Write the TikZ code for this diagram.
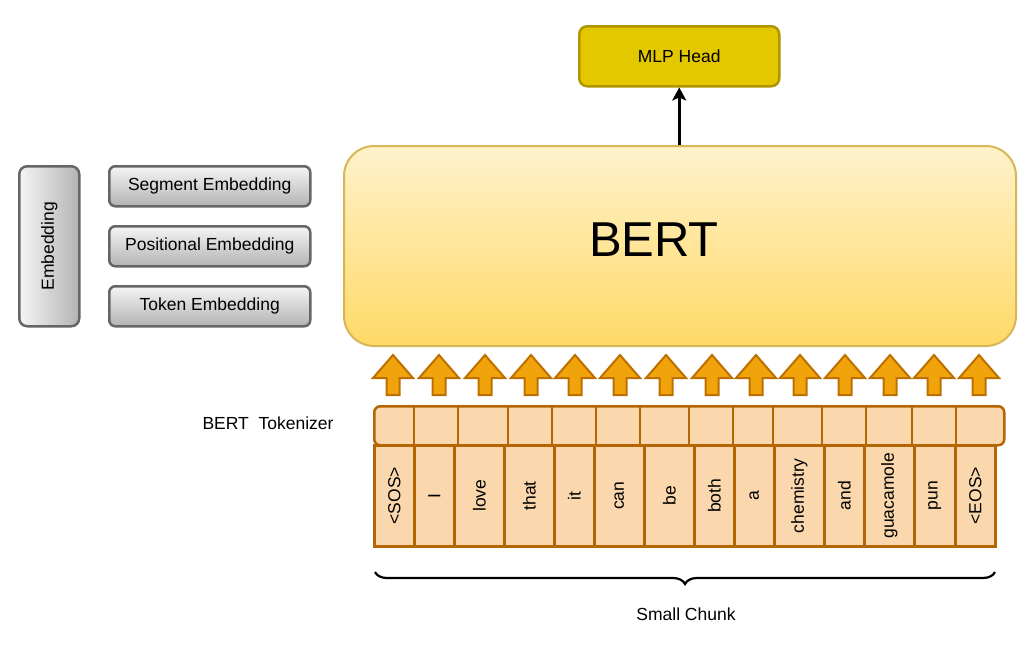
\documentclass[tikz,border=0pt]{standalone}
\usepackage{fontspec}
\setmainfont{Liberation Sans}
\usetikzlibrary{decorations.pathreplacing,arrows.meta}
\definecolor{cellfill}{HTML}{FAD7AC}
\definecolor{celldraw}{HTML}{B46504}
\definecolor{arrfill}{HTML}{F0A30A}
\definecolor{arrdraw}{HTML}{BD7000}
\definecolor{berttop}{HTML}{FFF2CC}
\definecolor{bertbot}{HTML}{FFD966}
\definecolor{bertdraw}{HTML}{D6B656}
\definecolor{mlpfill}{HTML}{E3C800}
\definecolor{mlpdraw}{HTML}{B09500}
\definecolor{grayA}{HTML}{F5F5F5}
\definecolor{grayB}{HTML}{B3B3B3}
\definecolor{grayD}{HTML}{666666}
\tikzset{
  txt/.style={font=\fontsize{17.5}{20}\selectfont, text=black},
  bertbox/.style={draw=bertdraw, line width=2, rounded corners=30, top color=berttop, bottom color=bertbot, inner sep=0, anchor=north west},
  mlpbox/.style={draw=mlpdraw, fill=mlpfill, line width=2.5, rounded corners=8, inner sep=0, anchor=north west, txt},
  embv/.style={draw=grayD, line width=2.5, rounded corners=8, left color=grayA, right color=grayB, inner sep=0, anchor=north west},
  embh/.style={draw=grayD, line width=2.5, rounded corners=6, top color=grayA, bottom color=grayB, inner sep=0, anchor=north west, txt, minimum width=201, minimum height=40},
  tokrow/.style={draw=celldraw, fill=cellfill, line width=2.5, rounded corners=6, inner sep=0, anchor=north west},
  cellbox/.style={draw=celldraw, fill=cellfill, line width=2.5, inner sep=0, anchor=north west},
  divider/.style={draw=celldraw, line width=2.5},
  uparrow/.style={draw=arrdraw, fill=arrfill, line width=2, line join=miter},
  conn/.style={line width=3, -{Stealth[length=13, width=14, inset=3]}},
  bracestyle/.style={line width=2.2, decorate, decoration={brace, mirror, amplitude=12}},
}
\begin{document}
\begin{tikzpicture}[x=1pt, y=-1pt]
\useasboundingbox (0,0) rectangle (1029,648);

% BERT and MLP head
\node[bertbox, minimum width=672, minimum height=200] (bert) at (343,145) {};
\node[font=\fontsize{49}{55}\selectfont] (berttxt) at (654,240) {BERT};
\node[mlpbox, minimum width=200, minimum height=60] (mlp) at (578,25) {};
\node[txt] (mlptxt) at (mlp.center) {MLP Head};
\draw[conn] (mlp.south |- bert.north) -- (mlp.south);

% Embedding boxes
\node[embv, minimum width=60, minimum height=160] (emb) at (18,165) {};
\node[txt, rotate=90] (embtxt) at (emb.center) {Embedding};
\node[embh] (seg) at (108,165) {Segment Embedding};
\node[embh] (pos) at (108,225) {Positional Embedding};
\node[embh] (tokemb) at (108,285) {Token Embedding};

% Tokenizer label
\node[txt] (toklbl) at (268,423) {BERT\ \ Tokenizer};

% Tokenizer row
\node[tokrow, minimum width=630, minimum height=39] (tokrow) at (373,405) {};
\foreach \xx [count=\i] in {414,458,508,552,596,640,689,733,773,822,866,912,956}{
  \coordinate (dtop\i) at (\xx,405);
  \coordinate (dbot\i) at (\xx,444);
  \draw[divider] (dtop\i) -- (dbot\i);
}

% Token cells
\foreach \xa/\xb/\w [count=\i] in {373/413/{<SOS>},413/453/I,453/503/love,503/553/that,553/593/it,593/643/can,643/693/be,693/733/both,733/773/a,773/823/chemistry,823/863/and,863/913/guacamole,913/954/pun,954/994/{<EOS>}}{
  \pgfmathsetmacro{\ww}{\xb-\xa}
  \node[cellbox, minimum width=\ww, minimum height=101] (c\i) at (\xa,444) {};
  \node[txt, rotate=90] (t\i) at (c\i.center) {\w};
}

% Up arrows
\foreach \cx [count=\i] in {393,439,485,531,575,620,666,712,756,800,845,890,934,979}{
  \draw[uparrow] (\cx,355) -- (\cx+20,378) -- (\cx+6.5,378) -- (\cx+6.5,395) -- (\cx-6.5,395) -- (\cx-6.5,378) -- (\cx-20,378) -- cycle;
}

% Brace
\coordinate (bl) at (375,572);
\coordinate (br) at (995,572);
\draw[bracestyle] (bl) -- (br);
\node[txt] (chunk) at (686,614) {Small Chunk};
\end{tikzpicture}
\end{document}
